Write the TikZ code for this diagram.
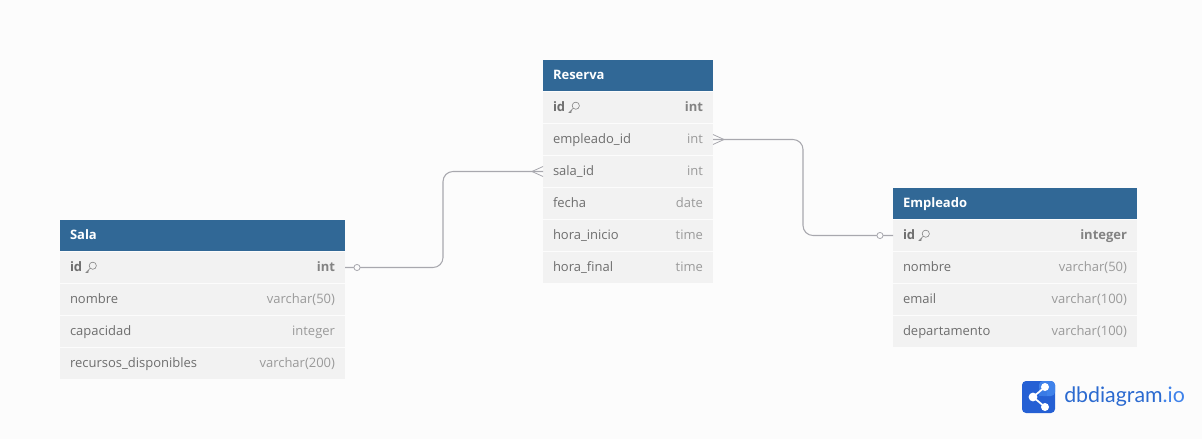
\documentclass[tikz,border=0pt]{standalone}
\usepackage{fontspec}
\setmainfont{Open Sans}
\newfontfamily\logofont{Lato}
\usetikzlibrary{positioning,calc}

\definecolor{bgcol}{HTML}{FCFCFC}
\definecolor{headcol}{HTML}{316896}
\definecolor{rowcol}{HTML}{F2F2F2}
\definecolor{namecol}{HTML}{6E6E6E}
\definecolor{typecol}{HTML}{9A9A9A}
\definecolor{linecol}{HTML}{A8A8AE}
\definecolor{logodark}{HTML}{2560D4}
\definecolor{logolight}{HTML}{3F82EA}
\definecolor{logotext}{HTML}{2B6AD0}

\tikzset{
    headbox/.style={anchor=north west, fill=headcol, text=white, font=\fontsize{9.75}{12}\selectfont\bfseries,
        minimum height=23.25pt, inner xsep=7.5pt, inner ysep=0pt, outer sep=0pt, text height=7.5pt, text depth=2pt},
    rowbox/.style={below=0.75pt of #1, fill=rowcol, text=namecol, font=\fontsize{9.75}{12}\selectfont,
        minimum height=23.25pt, inner xsep=7.5pt, inner ysep=0pt, outer sep=0pt, text height=7.5pt, text depth=2pt},
    saltab/.style={text width=198.75pt},
    restab/.style={text width=112.5pt},
    emptab/.style={text width=168pt},
    relline/.style={draw=linecol, line width=0.8pt, rounded corners=7.5pt},
    crowfoot/.style={draw=linecol, line width=0.6pt},
    onemark/.style={circle, draw=linecol, fill=bgcol, line width=0.6pt, minimum size=4.6pt, inner sep=0pt},
    keyicon/.pic={
        \draw[namecol!85, line width=0.45pt] (1.8,-1.8) circle (2.7pt);
        \draw[namecol!85, line width=0.45pt] (-0.8,0.8) -- (-5,5) -- (-3,5) -- (-3,3.4) -- (-1.8,3.4);
    }
}

\begin{document}
\begin{tikzpicture}[x=0.75pt, y=-0.75pt]
    \useasboundingbox[fill=bgcol] (0,0) rectangle (1202,439);

    % tabla Sala
    \node[headbox, saltab] (sala) at (60,220) {Sala};
    \node[rowbox=sala, saltab] (sala_id) {\textbf{id}\hfill\textbf{\textcolor{typecol!85!black}{int}}};
    \node[rowbox=sala_id, saltab] (sala_nombre) {nombre\hfill\textcolor{typecol}{varchar(50)}};
    \node[rowbox=sala_nombre, saltab] (sala_capacidad) {capacidad\hfill\textcolor{typecol}{integer}};
    \node[rowbox=sala_capacidad, saltab] (sala_recursos) {recursos\_disponibles\hfill\textcolor{typecol}{varchar(200)}};
    \pic at ($(sala_id.west)+(31,0)$) {keyicon};

    % tabla Reserva
    \node[headbox, restab] (res) at (543,60) {Reserva};
    \node[rowbox=res, restab] (res_id) {\textbf{id}\hfill\textbf{\textcolor{typecol!85!black}{int}}};
    \node[rowbox=res_id, restab] (res_empleado) {empleado\_id\hfill\textcolor{typecol}{int}};
    \node[rowbox=res_empleado, restab] (res_sala) {sala\_id\hfill\textcolor{typecol}{int}};
    \node[rowbox=res_sala, restab] (res_fecha) {fecha\hfill\textcolor{typecol}{date}};
    \node[rowbox=res_fecha, restab] (res_inicio) {hora\_inicio\hfill\textcolor{typecol}{time}};
    \node[rowbox=res_inicio, restab] (res_final) {hora\_final\hfill\textcolor{typecol}{time}};
    \pic at ($(res_id.west)+(31,0)$) {keyicon};

    % tabla Empleado
    \node[headbox, emptab] (emp) at (893,188) {Empleado};
    \node[rowbox=emp, emptab] (emp_id) {\textbf{id}\hfill\textbf{\textcolor{typecol!85!black}{integer}}};
    \node[rowbox=emp_id, emptab] (emp_nombre) {nombre\hfill\textcolor{typecol}{varchar(50)}};
    \node[rowbox=emp_nombre, emptab] (emp_email) {email\hfill\textcolor{typecol}{varchar(100)}};
    \node[rowbox=emp_email, emptab] (emp_depto) {departamento\hfill\textcolor{typecol}{varchar(100)}};
    \pic at ($(emp_id.west)+(31,0)$) {keyicon};

    % relacion Sala - Reserva
    \coordinate (sala_mid) at (443,0);
    \draw[relline] (sala_id.east) -- (sala_mid |- sala_id.east) -- (sala_mid |- res_sala.west) -- (res_sala.west);
    \node[onemark] (sala_one) at ($(sala_id.east)+(12,0)$) {};
    \coordinate (sala_crow) at ($(res_sala.west)+(-11,0)$);
    \draw[crowfoot] ($(res_sala.west)+(0,-5)$) -- (sala_crow) -- ($(res_sala.west)+(0,5)$);

    % relacion Reserva - Empleado
    \coordinate (emp_mid) at (803,0);
    \draw[relline] (res_empleado.east) -- (emp_mid |- res_empleado.east) -- (emp_mid |- emp_id.west) -- (emp_id.west);
    \node[onemark] (emp_one) at ($(emp_id.west)+(-13,0)$) {};
    \coordinate (emp_crow) at ($(res_empleado.east)+(11,0)$);
    \draw[crowfoot] ($(res_empleado.east)+(0,-5)$) -- (emp_crow) -- ($(res_empleado.east)+(0,5)$);

    % logo
    \fill[logodark, rounded corners=3pt] (1022,381) rectangle (1055,413);
    \fill[logolight, rounded corners=3pt] (1039,381) rectangle (1055,396);
    \fill[logolight!80!logodark] (1039,388) rectangle (1047,396);
    \draw[white, line width=1.3pt] (1045,387) -- (1033,397) -- (1045,407);
    \fill[white] (1033,397) circle (3.3pt) (1045,387) circle (3pt) (1045,407) circle (3pt);
    \node[anchor=west, inner sep=0pt, text=logotext, font=\logofont\fontsize{16}{18}\selectfont] (logo) at (1064,397) {dbdiagram\textcolor{logolight}{.io}};
\end{tikzpicture}
\end{document}
